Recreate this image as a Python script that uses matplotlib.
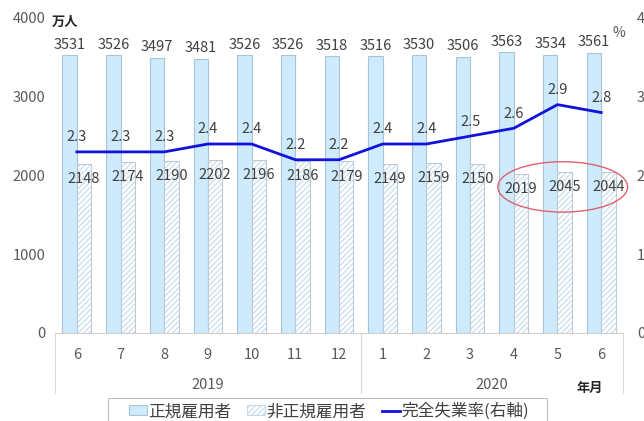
import matplotlib
matplotlib.use("Agg")
import matplotlib.pyplot as plt
import matplotlib.transforms as mtransforms
from matplotlib.patches import Ellipse, Patch, Rectangle
from matplotlib.lines import Line2D

plt.rcParams['font.family'] = ['Noto Sans CJK JP', 'DejaVu Sans']
plt.rcParams['hatch.linewidth'] = 0.8

# Data (万人 / %)
months = ['6', '7', '8', '9', '10', '11', '12', '1', '2', '3', '4', '5', '6']
years = ['2019', '2020']
year_spans = [(0, 6), (7, 12)]
regular = [3531, 3526, 3497, 3481, 3526, 3526, 3518, 3516, 3530, 3506, 3563, 3534, 3561]
nonregular = [2148, 2174, 2190, 2202, 2196, 2186, 2179, 2149, 2159, 2150, 2019, 2045, 2044]
rate = [2.3, 2.3, 2.3, 2.4, 2.4, 2.2, 2.2, 2.4, 2.4, 2.5, 2.6, 2.9, 2.8]

W, H = 644, 421
fig = plt.figure(figsize=(W / 100, H / 100), dpi=100)
ax = fig.add_axes([55 / W, 1 - 333 / H, (623 - 55) / W, (333 - 18) / H])
ax2 = ax.twinx()

txt = '#404040'
tick_c = '#595959'
reg_fill, reg_edge = '#CDEBFC', '#A9C4D9'
hatch_c, non_edge = '#C4DAEE', '#BCCAD6'
line_c = '#1212DD'
x = list(range(len(months)))
bw = 0.33

reg_x = [i - bw / 2 for i in x]
non_x = [i + bw / 2 for i in x]
ax.bar(reg_x, regular, width=bw, color=reg_fill, edgecolor=reg_edge, linewidth=0.8, zorder=2)
ax.bar(non_x, nonregular, width=bw, color='white', edgecolor=hatch_c, hatch='//////',
       linewidth=0, zorder=2)
ax.bar(non_x, nonregular, width=bw, fill=False, edgecolor=non_edge, linewidth=0.8, zorder=2)

for xi, v in zip(reg_x, regular):
    ax.annotate(str(v), (xi, v), xytext=(0, 7.5), textcoords='offset points',
                ha='center', va='center', fontsize=10.5, color=txt)
for xi, v in zip(non_x, nonregular):
    ax.annotate(str(v), (xi, v), xytext=(0, -11), textcoords='offset points',
                ha='center', va='center', fontsize=10.5, color=txt, zorder=5)

ax2.plot(x, rate, color=line_c, linewidth=2, zorder=4)
for xi, v in zip(x, rate):
    ax2.annotate(f'{v:.1f}', (xi, v), xytext=(0, 10.5), textcoords='offset points',
                 ha='center', va='center', fontsize=10.5, color=txt)

ax.set_xlim(-0.5, len(months) - 0.5)
ax.set_ylim(0, 4000)
ax2.set_ylim(0, 4)
ax.set_yticks([0, 1000, 2000, 3000, 4000])
ax2.set_yticks([0, 1, 2, 3, 4])
ax.set_xticks(x)
ax.set_xticklabels(months)
ax.tick_params(axis='x', length=0, pad=11, labelsize=10.5, labelcolor=tick_c)
ax.tick_params(axis='y', length=0, pad=7, labelsize=10.5, labelcolor=tick_c)
ax2.tick_params(axis='y', length=0, pad=10, labelsize=10.5, labelcolor=tick_c)

for a in (ax, ax2):
    for s in ('left', 'right', 'top', 'bottom'):
        a.spines[s].set_visible(False)
ax.spines['bottom'].set_visible(True)
ax.spines['bottom'].set_color('#D0D0D0')
ax.spines['bottom'].set_linewidth(0.8)

# Year grouping below the month labels
trans = mtransforms.blended_transform_factory(ax.transData, ax.transAxes)
for yr, (a, b) in zip(years, year_spans):
    ax.text((a + b) / 2, -0.165, yr, transform=trans, ha='center', va='center',
            fontsize=10.5, color=tick_c)
for xb in (-0.5, 6.5, len(months) - 0.5):
    ax.plot([xb, xb], [0, -0.19], transform=trans, color='#D9D9D9', linewidth=0.8,
            clip_on=False)
ax.text(len(months) - 1.25, -0.175, '年月', transform=trans, ha='center', va='center',
        fontsize=9.5, fontweight='bold', color='#262626')

# Units
fig.text(52 / W, 1 - 22 / H, '万人', ha='left', va='center',
         fontsize=9.5, fontweight='bold', color='#262626')
fig.text(619 / W, 1 - 33 / H, '%', ha='center', va='center', fontsize=10, color=tick_c)

# Highlight of the latest non-regular figures
ell = Ellipse((11.12, 1855), width=2.97, height=640, fill=False, edgecolor='#E0606E',
              linewidth=1.0, clip_on=False, zorder=6)
ax.add_patch(ell)

# Legend with a wider frame drawn separately
frame = Rectangle((108 / W, -0.05), (547 - 108) / W, (1 - 398 / H) + 0.05,
                  transform=fig.transFigure, fill=False, edgecolor='#BFBFBF',
                  linewidth=0.8)
fig.add_artist(frame)
handles = [
    Patch(facecolor=reg_fill, edgecolor=reg_edge, linewidth=0.8),
    Patch(facecolor='white', edgecolor=hatch_c, hatch='//////', linewidth=0.8),
    Line2D([0], [0], color=line_c, linewidth=2),
]
labels = ['正規雇用者', '非正規雇用者', '完全失業率(右軸)']
leg = fig.legend(handles, labels, loc='upper left', bbox_to_anchor=(129 / W, 1 - 403 / H),
                 borderaxespad=0, ncol=3, frameon=False,
                 fontsize=12, handlelength=1.1, handleheight=0.55, handletextpad=0.05,
                 columnspacing=0.95, borderpad=0, labelcolor=txt)

fig.savefig('out.png', dpi=100)
